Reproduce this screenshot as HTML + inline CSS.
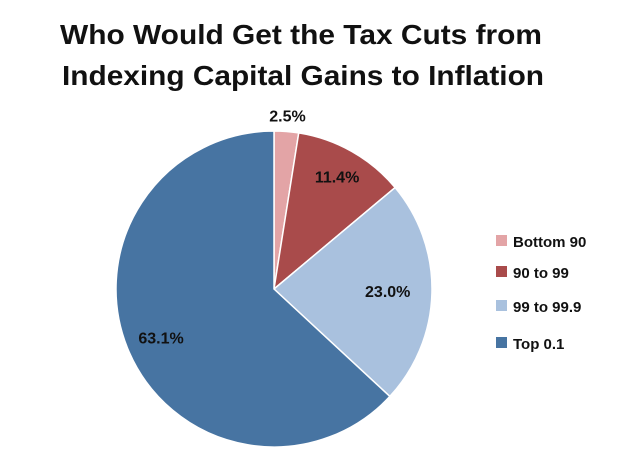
<!DOCTYPE html>
<html><head><meta charset="utf-8"><style>
body{margin:0;background:#fff;width:620px;height:458px;overflow:hidden;font-family:"Liberation Sans",sans-serif}
</style></head><body>
<svg width="620" height="458">
<text x="60" y="44" textLength="482" lengthAdjust="spacingAndGlyphs" font-size="28" font-weight="bold" fill="#111">Who Would Get the Tax Cuts from</text>
<text x="62" y="85" textLength="482" lengthAdjust="spacingAndGlyphs" font-size="28" font-weight="bold" fill="#111">Indexing Capital Gains to Inflation</text>
<g id="slices"></g><g id="labels"></g><g id="legend"></g>
</svg>
<script>
const categories=["Bottom 90","90 to 99","99 to 99.9","Top 0.1"];
const values=[2.5,11.4,23.0,63.1];
const valueLabels=["2.5%","11.4%","23.0%","63.1%"];
const colors=["#e3a4a6","#a94b4b","#a9c1de","#4774a2"];
const cx=274,cy=289,r=158,ns="http://www.w3.org/2000/svg";
const total=values.reduce((a,b)=>a+b,0);
let a0=-Math.PI/2;
const S=document.getElementById('slices'),L=document.getElementById('labels'),G=document.getElementById('legend');
values.forEach((v,i)=>{
  const a1=a0+v/total*2*Math.PI;
  const x0=cx+r*Math.cos(a0),y0=cy+r*Math.sin(a0),x1=cx+r*Math.cos(a1),y1=cy+r*Math.sin(a1);
  const p=document.createElementNS(ns,'path');
  p.setAttribute('d',`M${cx},${cy}L${x0},${y0}A${r},${r} 0 ${a1-a0>Math.PI?1:0} 1 ${x1},${y1}Z`);
  p.setAttribute('fill',colors[i]);p.setAttribute('stroke','#fff');p.setAttribute('stroke-width','1.5');
  
  
  S.appendChild(p);
  const am=(a0+a1)/2;
  let lx,ly;
  if(v/total<0.05){lx=cx+(r+14)*Math.cos(am);ly=cy+(r+14)*Math.sin(am)+4;}
  else{const f=i===3?0.78:(i===2?0.72:0.81);lx=cx+r*f*Math.cos(am);ly=cy+r*f*Math.sin(am)+5;}
  const t=document.createElementNS(ns,'text');
  t.setAttribute('x',lx);t.setAttribute('y',ly);t.setAttribute('text-anchor','middle');
  t.setAttribute('font-size','16');t.setAttribute('font-weight','bold');t.setAttribute('fill','#111');
  t.textContent=valueLabels[i];
  
  
  L.appendChild(t);
  const ry=[241,272,306,343][i];
  const sq=document.createElementNS(ns,'rect');
  sq.setAttribute('x',496);sq.setAttribute('y',ry-6);sq.setAttribute('width',11);sq.setAttribute('height',11);sq.setAttribute('fill',colors[i]);
  
  
  G.appendChild(sq);
  const lt=document.createElementNS(ns,'text');
  lt.setAttribute('x',513);lt.setAttribute('y',ry+6);lt.setAttribute('font-size','15');lt.setAttribute('font-weight','bold');lt.setAttribute('fill','#111');
  lt.textContent=categories[i];
  
  
  G.appendChild(lt);
  a0=a1;
});
</script>
</body></html>
